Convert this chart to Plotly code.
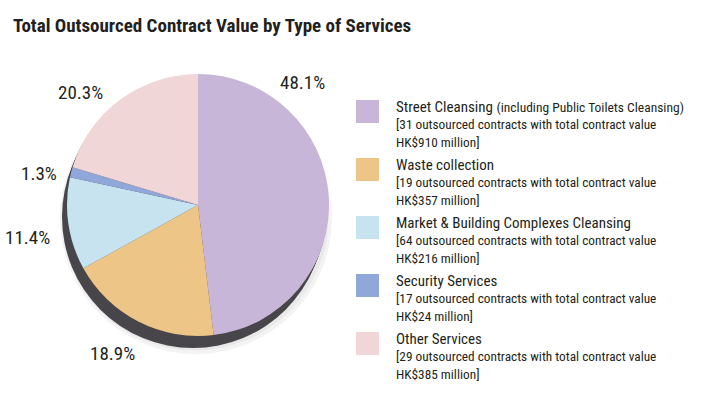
import plotly.graph_objects as go

# ---------------- data ----------------
categories = ["Street Cleansing", "Waste collection", "Market & Building Complexes Cleansing",
              "Security Services", "Other Services"]
category_notes = ["(including Public Toilets Cleansing)", "", "", "", ""]
contracts = [31, 19, 64, 17, 29]
values_hkd_m = [910, 357, 216, 24, 385]
title_text = "Total Outsourced Contract Value by Type of Services"

# ---------------- styles ----------------
colors = ["#c8b6d9", "#edc687", "#c6e3ef", "#90a7d9", "#f1d6d8"]
shadow_color = "#48454b"
glow_colors = ["#f3f3f3", "#e9e9e9"]
text_color = "#231f20"
FONT = "Roboto Condensed, Roboto, Liberation Sans, Arial, sans-serif"

W, H = 706, 394


def px(x):
    return x / W


def py(y):
    return 1 - y / H


# pie geometry (pixels)
cx, cy, r = 198, 205, 131
shadow_vec = (-5, 12)

fig = go.Figure()


def disc(x, y, rad, color):
    fig.add_trace(go.Pie(
        values=[1], marker=dict(colors=[color], line=dict(width=0)),
        textinfo="none", hoverinfo="skip", showlegend=False, sort=False,
        domain=dict(x=[px(x - rad), px(x + rad)], y=[py(y + rad), py(y - rad)]),
    ))


# soft outer glow
disc(cx - 2, cy + 13, r + 5, glow_colors[0])
disc(cx - 3, cy + 12, r + 2.5, glow_colors[1])
# extruded shadow
for t in [1.0, 0.75, 0.5, 0.25]:
    disc(cx + shadow_vec[0] * t, cy + shadow_vec[1] * t, r, shadow_color)

fig.add_trace(go.Pie(
    labels=categories, values=values_hkd_m,
    marker=dict(colors=colors, line=dict(width=0)),
    textinfo="none", sort=False, direction="clockwise", rotation=0,
    showlegend=False,
    domain=dict(x=[px(cx - r), px(cx + r)], y=[py(cy + r), py(cy - r)]),
))

total = sum(values_hkd_m)
pct_text = [f"{v / total * 100:.1f}%" for v in values_hkd_m]

annotations = []
shapes = []

# percentage labels (placement)
label_pos = [(302, 82), (112, 353), (27, 237), (39, 173), (80, 92)]
for (lx, ly), t in zip(label_pos, pct_text):
    annotations.append(dict(x=px(lx), y=py(ly), xref="paper", yref="paper", text=t,
                            showarrow=False, xanchor="center", yanchor="middle",
                            font=dict(family=FONT, size=19, color=text_color)))

# title
annotations.append(dict(x=px(11), y=py(25), xref="paper", yref="paper",
                        text=f"<b>{title_text}</b>", showarrow=False,
                        xanchor="left", yanchor="middle",
                        font=dict(family=FONT, size=19, color=text_color)))

# custom legend
sq_x0, sq_size, text_x = 356, 23, 394
group_top0, group_step, line_step = 100, 58, 17.5
for i, (cat, note, n, v, c) in enumerate(zip(categories, category_notes, contracts,
                                             values_hkd_m, colors)):
    top = group_top0 + group_step * i
    shapes.append(dict(type="rect", xref="paper", yref="paper",
                       x0=px(sq_x0), x1=px(sq_x0 + sq_size),
                       y0=py(top + sq_size), y1=py(top),
                       fillcolor=c, line=dict(width=0)))
    first = cat
    if note:
        first += f" <span style='font-size:13.5px'>{note}</span>"
    lines = [first, f"[{n} outsourced contracts with total contract value", f"HK${v} million]"]
    for j, ln in enumerate(lines):
        annotations.append(dict(x=px(text_x), y=py(top + 7 + line_step * j),
                                xref="paper", yref="paper", text=ln, showarrow=False,
                                xanchor="left", yanchor="middle",
                                font=dict(family=FONT, size=15 if j == 0 else 13.3,
                                          color=text_color)))

fig.update_layout(
    width=W, height=H, margin=dict(l=0, r=0, t=0, b=0),
    paper_bgcolor="white", plot_bgcolor="white",
    annotations=annotations, shapes=shapes, showlegend=False,
)

fig.write_html("out.html", config={"displayModeBar": False},
               post_script="document.body.style.margin='0';")
